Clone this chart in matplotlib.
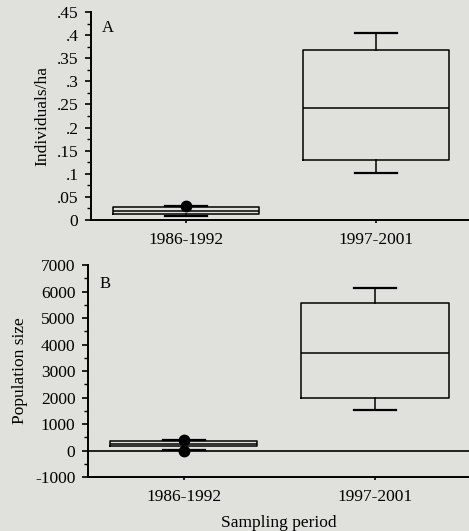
import numpy as np
import matplotlib.pyplot as plt
from matplotlib.ticker import FixedLocator, AutoMinorLocator, FuncFormatter

plt.rcParams['font.family'] = ['Liberation Serif', 'DejaVu Serif']
plt.rcParams['axes.unicode_minus'] = False

periods = ['1986-1992', '1997-2001']

# panel A: individuals/ha  (whislo, q1, med, q3, whishi)
dens_lo = [0.009, 0.012, 0.020, 0.028, 0.031]
dens_hi = [0.102, 0.130, 0.242, 0.368, 0.405]
dens_fliers = [[0.030], []]

# panel B: population size
pop_lo = [20, 160, 240, 350, 380]
pop_hi = [1530, 1990, 3690, 5580, 6140]
pop_fliers = [[0, 380], []]

bg = '#e0e0dc'


def stats(rows, fliers):
    out = []
    for r, f in zip(rows, fliers):
        out.append(dict(whislo=r[0], q1=r[1], med=r[2], q3=r[3], whishi=r[4], fliers=f))
    return out


def no_zero(v, pos):
    s = ('%g' % v)
    if s.startswith('0.'):
        s = s[1:]
    return s


fig = plt.figure(figsize=(4.69, 5.31), dpi=100, facecolor=bg)
axA = fig.add_axes([0.194, 0.5857, 0.806, 0.3917], facecolor=bg)
axB = fig.add_axes([0.1876, 0.1017, 0.8124, 0.3992], facecolor=bg)

line = dict(color='black', linewidth=1.1)
flier = dict(marker='o', markerfacecolor='black', markeredgecolor='black', markersize=7.5)

for ax, rows, fl in [(axA, [dens_lo, dens_hi], dens_fliers), (axB, [pop_lo, pop_hi], pop_fliers)]:
    ax.bxp(stats(rows, fl), positions=[1, 2], widths=0.77, showfliers=True,
           boxprops=line, medianprops=line, whiskerprops=line,
           capprops=dict(color='black', linewidth=1.6), flierprops=flier, capwidths=0.22)
    ax.set_xlim(0.5, 2.49)
    ax.set_xticks([1, 2])
    ax.set_xticklabels(periods, fontsize=12.5)
    for s in ['top', 'right']:
        ax.spines[s].set_visible(False)
    for s in ['left', 'bottom']:
        ax.spines[s].set_linewidth(1.4)
    ax.tick_params(axis='both', direction='out', width=1.2, length=4, labelsize=12.5, pad=5)
    ax.tick_params(axis='x', length=2, pad=7)
    ax.yaxis.set_minor_locator(AutoMinorLocator(2))
    ax.tick_params(axis='y', which='minor', direction='out', width=1.0, length=3)

axA.set_ylim(0, 0.45)
axA.yaxis.set_major_locator(FixedLocator(np.arange(0, 0.451, 0.05)))
axA.yaxis.set_major_formatter(FuncFormatter(no_zero))
axA.set_ylabel('Individuals/ha', fontsize=12.5, labelpad=5)
axA.text(0.03, 0.96, 'A', transform=axA.transAxes, fontsize=12, va='top')

axB.set_ylim(-1000, 7000)
axB.yaxis.set_major_locator(FixedLocator(np.arange(-1000, 7001, 1000)))
axB.axhline(0, color='black', linewidth=1.2)
axB.set_ylabel('Population size', fontsize=12.5, labelpad=5)
axB.set_xlabel('Sampling period', fontsize=12.5, labelpad=7)
axB.text(0.03, 0.95, 'B', transform=axB.transAxes, fontsize=12, va='top')

fig.savefig('out.png', dpi=100, facecolor=bg)
